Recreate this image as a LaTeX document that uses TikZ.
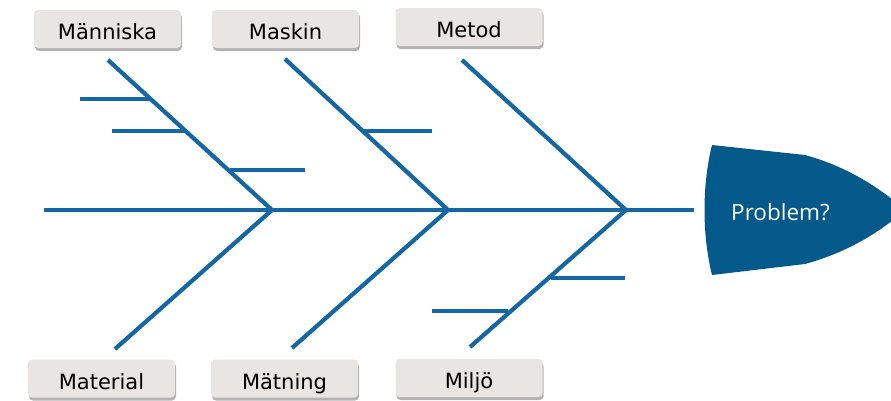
\documentclass[tikz,border=0pt]{standalone}
\usepackage{fontspec}
\setmainfont{DejaVu Sans}
\newfontfamily\headfont{Open Sans}
\usetikzlibrary{shadows}
\definecolor{bonec}{HTML}{1467A2}
\definecolor{headc}{HTML}{035A8A}
\definecolor{boxc}{HTML}{E9E5E2}
\begin{document}
\begin{tikzpicture}[x=1pt,y=-1pt,
  bone/.style={draw=bonec, line width=4.2pt},
  catbox/.style={fill=boxc, rounded corners=4pt, minimum width=147pt, minimum height=38pt,
    inner sep=0pt, text height=21pt, text depth=0pt, font=\fontsize{21}{24}\selectfont,
    drop shadow={shadow xshift=1pt, shadow yshift=-3pt, opacity=0.6}}]
\useasboundingbox (0,0) rectangle (891,400);
% category boxes
\node[catbox] (manniska) at (107.5,29) {Människa};
\node[catbox] (maskin) at (285.5,29) {Maskin};
\node[catbox] (metod) at (469,27) {Metod};
\node[catbox] (material) at (101.5,378.5) {Material};
\node[catbox] (matning) at (284.5,378.5) {Mätning};
\node[catbox] (miljo) at (469,378) {Miljö};
% head
\fill[headc] (712,145) -- (805,155) .. controls (845,166) and (878,186) .. (905,210)
  .. controls (878,234) and (845,253) .. (805,264) -- (712,275)
  .. controls (702,235) and (702,185) .. (712,145);
\node[text=white, font=\headfont\fontsize{22.5}{26}\selectfont, anchor=west, inner sep=0pt] (problem) at (731,212) {Problem?};
% spine
\coordinate (tail) at (44,210);
\coordinate (spineend) at (694,210);
\coordinate (j1) at (272,210);
\coordinate (j2) at (448,210);
\coordinate (j3) at (626,210);
\draw[bone] (tail) -- (spineend);
% main bones
\coordinate (u1) at (108,60);
\coordinate (u2) at (285,59);
\coordinate (u3) at (462,60);
\coordinate (l1) at (115,349);
\coordinate (l2) at (292,348);
\coordinate (l3) at (470,347);
\draw[bone] (u1) -- (j1);
\draw[bone] (u2) -- (j2);
\draw[bone] (u3) -- (j3);
\draw[bone] (l1) -- (j1);
\draw[bone] (l2) -- (j2);
\draw[bone] (l3) -- (j3);
% sub bones
\coordinate (a1) at (80,99);   \coordinate (a2) at (151,99);
\coordinate (b1) at (112,131); \coordinate (b2) at (186,131);
\coordinate (c1) at (230,170); \coordinate (c2) at (305,170);
\coordinate (d1) at (362,131); \coordinate (d2) at (432,131);
\coordinate (e1) at (551,278); \coordinate (e2) at (625,278);
\coordinate (f1) at (432,311); \coordinate (f2) at (508,311);
\draw[bone] (a1) -- (a2);
\draw[bone] (b1) -- (b2);
\draw[bone] (c1) -- (c2);
\draw[bone] (d1) -- (d2);
\draw[bone] (e1) -- (e2);
\draw[bone] (f1) -- (f2);
\end{tikzpicture}
\end{document}
